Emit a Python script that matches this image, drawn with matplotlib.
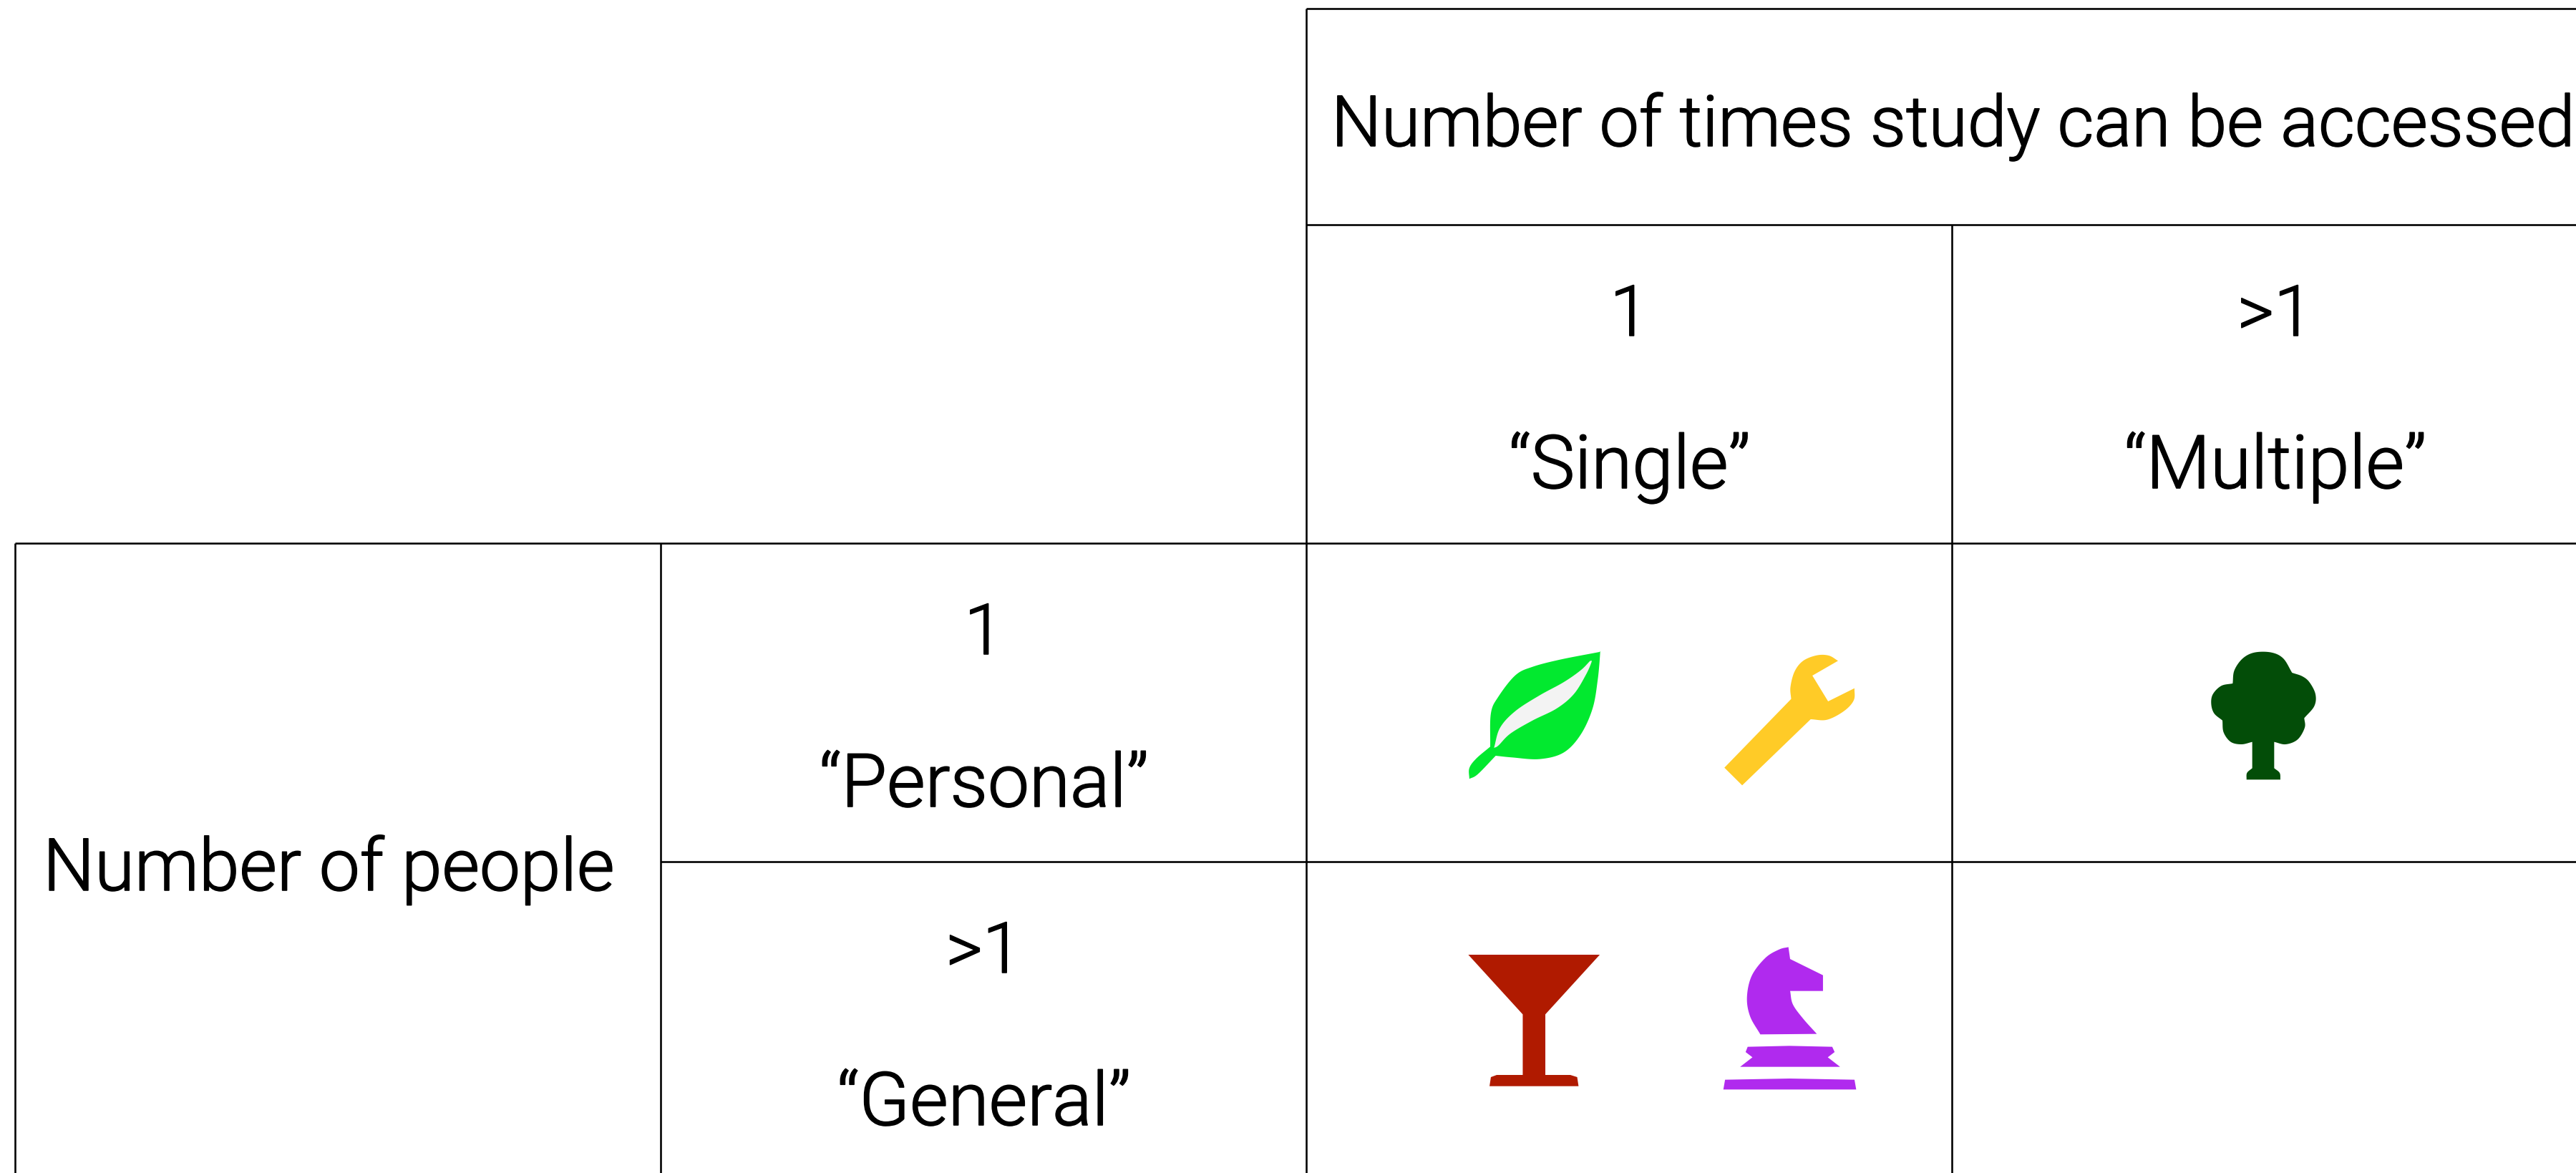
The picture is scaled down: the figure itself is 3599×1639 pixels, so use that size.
import numpy as np
import matplotlib
matplotlib.use('Agg')
import matplotlib.pyplot as plt
import matplotlib.patheffects as pe
from matplotlib.patches import Polygon
from matplotlib.textpath import TextPath
from matplotlib.font_manager import FontProperties

# ---- content ----
header_title = "Number of times study can be accessed"
side_title = "Number of people"
col_labels = ["1", "\u201cSingle\u201d", ">1", "\u201cMultiple\u201d"]
row_labels = ["1", "\u201cPersonal\u201d", ">1", "\u201cGeneral\u201d"]

# ---- colours ----
GREEN, VEIN, YELLOW = "#02e92f", "#f3f3f3", "#ffcb27"
RED, PURPLE, DARK = "#b01a00", "#b02aee", "#034d08"

# ---- layout (pixels of the 3599x1639 canvas) ----
W, H = 3599, 1639
X = [21.5, 923.5, 1825.5, 2727.5, 3630]
Y = [11.5, 314, 759, 1204, 1648]
LW_PX = 2.6
FP = FontProperties(family="Roboto", weight=300)
TARGET_W = 1721
STROKE_PX = 1.6
SIDE_SCALE, QUOTE_SCALE = 1.03, 1.05

# ---- icon outlines: list of smooth runs ----
LEAF_Z = [
    [(595,183),(480,215),(400,245),(350,280),(300,370),(278,440),(276,580)],
    [(276,580),(235,630),(215,670),(215,715)],
    [(215,715),(240,695),(292,618)],
    [(292,618),(340,625),(420,632),(490,605),(540,530),(575,420),(590,300),(597,190),(595,183)],
]
VEIN_Z = [
    [(568,220),(540,260),(490,310),(420,365),(350,430),(305,500),(287,585)],
    [(287,585),(300,575),(335,525),(400,470),(470,420),(520,360),(555,280),(572,225),(568,220)],
]
WRENCH_Z = [
    [(1155,380),(960,668)], [(960,668),(1012,742)], [(1012,742),(1212,465)],
    [(1212,465),(1260,467),(1310,430),(1338,385),(1340,335)],
    [(1340,335),(1263,390)], [(1263,390),(1217,282)], [(1217,282),(1292,220)],
    [(1292,220),(1265,198),(1230,197),(1190,220),(1165,265),(1153,330),(1155,380)],
]
GLASS_Z = [[p] for p in [(212,162),(596,162),(437,412),(437,666),(510,666),(530,675),(534,713),
                         (274,713),(278,675),(295,666),(371,666),(371,412)]]
KNIGHT_HEAD_Z = [
    [(1147,130),(1152,180)], [(1152,180),(1248,248)], [(1248,248),(1248,314)], [(1248,314),(1152,314)],
    [(1152,314),(1160,370),(1190,430),(1230,494)], [(1230,494),(1065,496)],
    [(1065,496),(1035,420),(1026,340),(1040,250),(1080,175),(1120,140),(1147,130)],
]
KNIGHT_MID_Z = [[p] for p in [(1028,548),(1150,544),(1275,548),(1282,570),(1262,592),(1298,632),
                              (1006,632),(1042,592),(1022,570)]]
KNIGHT_BASE_Z = [[p] for p in [(962,686),(1150,681),(1340,686),(1345,727),(957,727)]]
TREE_Z = [
    [(440,530),(440,640)], [(440,640),(418,660),(416,688)], [(416,688),(558,688)],
    [(558,688),(555,660),(532,640)], [(532,640),(532,530)],
    [(532,530),(580,540),(630,520),(660,470),(658,430)],
    [(658,430),(700,380),(705,330),(680,280),(650,255),(607,240)],
    [(607,240),(570,180),(520,155),(450,155),(400,180),(365,230),(358,285)],
    [(358,285),(310,295),(275,330),(268,370),(280,410),(315,440)],
    [(315,440),(320,490),(350,530),(395,540),(440,530)],
]


def smooth(run, n=12):
    """Catmull-Rom through one run of outline points."""
    pts = np.asarray(run, float)
    if len(pts) < 3:
        return pts
    ext = np.vstack([2 * pts[0] - pts[1], pts, 2 * pts[-1] - pts[-2]])
    out = []
    for i in range(1, len(ext) - 2):
        p0, p1, p2, p3 = ext[i - 1], ext[i], ext[i + 1], ext[i + 2]
        for t in np.linspace(0, 1, n, endpoint=False):
            out.append(0.5 * (2 * p1 + (p2 - p0) * t + (2 * p0 - 5 * p1 + 4 * p2 - p3) * t ** 2
                              + (3 * p1 - p0 - 3 * p2 + p3) * t ** 3))
    out.append(pts[-1])
    return np.array(out)


def icon(ax, runs, origin, factor, color):
    pts = np.vstack([smooth(r) for r in runs]) / np.asarray(factor) + np.asarray(origin)
    ax.add_patch(Polygon(pts, closed=True, facecolor=color, edgecolor="none", zorder=3))


fig = plt.figure(figsize=(W / 100, H / 100), dpi=100, facecolor="white")
ax = fig.add_axes([0, 0, 1, 1])
ax.set_xlim(0, W)
ax.set_ylim(H, 0)
ax.axis("off")

lw = LW_PX * 72 / 100
line = dict(color="black", lw=lw, solid_capstyle="butt", zorder=2)
# horizontal rules
ax.plot([X[2], W], [Y[0], Y[0]], **line)
ax.plot([X[2], W], [Y[1], Y[1]], **line)
ax.plot([X[0], W], [Y[2], Y[2]], **line)
ax.plot([X[1], W], [Y[3], Y[3]], **line)
# vertical rules
ax.plot([X[2], X[2]], [Y[0], H], **line)
ax.plot([X[3], X[3]], [Y[1], H], **line)
ax.plot([X[0], X[0]], [Y[2], H], **line)
ax.plot([X[1], X[1]], [Y[2], H], **line)

# font size chosen so the long header spans the same width as in the reference
size = TARGET_W / TextPath((0, 0), header_title, size=100, prop=FP).get_extents().width * 100 * 72 / 100
txt = dict(color="black", fontproperties=FP, va="baseline", zorder=4)
stroke = [pe.withStroke(linewidth=STROKE_PX * 72 / 100, foreground="black")]


def label(x, y, s, ha="center", scale=1.0):
    t = ax.text(x, y, s, ha=ha, path_effects=stroke, **txt)
    t.set_fontsize(size * scale)


label(1860, 204, header_title, ha="left")
label(60, 1244, side_title, ha="left", scale=SIDE_SCALE)

FIRST, SECOND = 155, 368
for c, (a, b) in enumerate(zip(col_labels[::2], col_labels[1::2])):
    cx = (X[2 + c] + X[3 + c]) / 2
    label(cx, Y[1] + FIRST, a)
    label(cx, Y[1] + SECOND, b, scale=QUOTE_SCALE)
for r, (a, b) in enumerate(zip(row_labels[::2], row_labels[1::2])):
    cx = (X[1] + X[2]) / 2
    label(cx, Y[2 + r] + FIRST, a)
    label(cx, Y[2 + r] + SECOND, b, scale=QUOTE_SCALE)

Z1 = (1568 / 750, 3)
icon(ax, LEAF_Z, (1950, 850), Z1, GREEN)
icon(ax, VEIN_Z, (1950, 850), Z1, VEIN)
icon(ax, WRENCH_Z, (1950, 850), Z1, YELLOW)
icon(ax, GLASS_Z, (1950, 1280), Z1, RED)
icon(ax, KNIGHT_HEAD_Z, (1950, 1280), Z1, PURPLE)
icon(ax, KNIGHT_MID_Z, (1950, 1280), Z1, PURPLE)
icon(ax, KNIGHT_BASE_Z, (1950, 1280), Z1, PURPLE)
icon(ax, TREE_Z, (3000, 860), (3, 3), DARK)

fig.savefig("out.png", dpi=100, facecolor="white")
